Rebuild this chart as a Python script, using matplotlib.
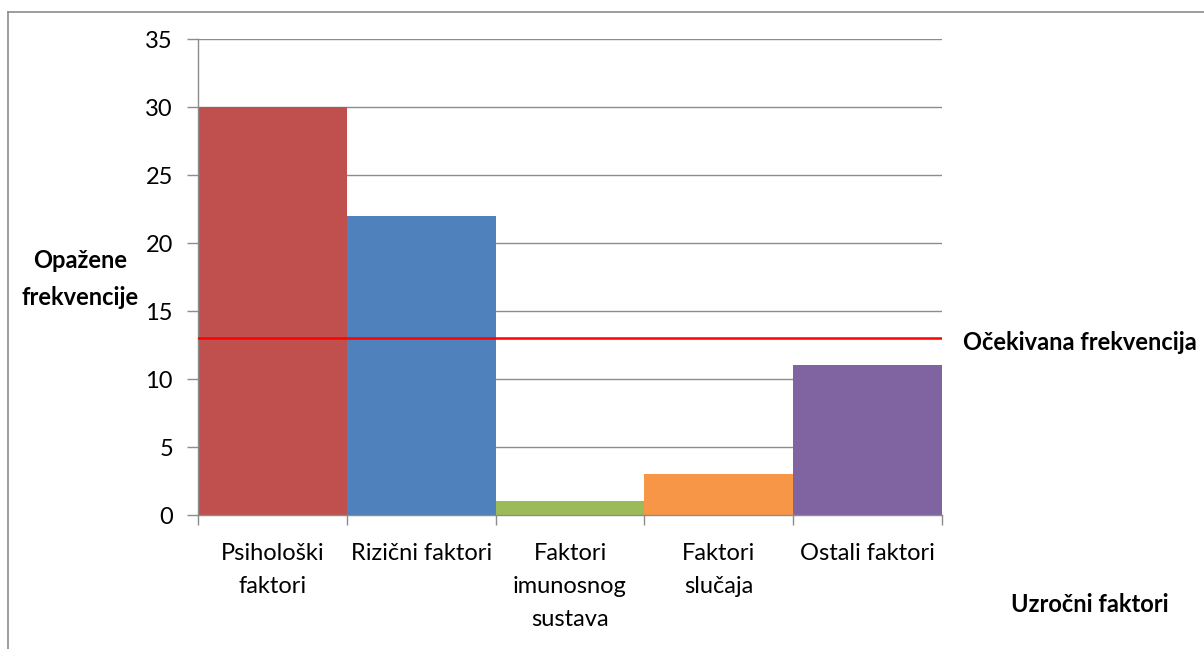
import matplotlib
matplotlib.use("Agg")
import matplotlib.pyplot as plt
from matplotlib.lines import Line2D

categories = ["Psihološki\nfaktori", "Rizični faktori", "Faktori\nimunosnog\nsustava",
              "Faktori\nslučaja", "Ostali faktori"]
observed = [30, 22, 1, 3, 11]
expected = 13
colors = ["#C0504D", "#4F81BD", "#9BBB59", "#F79646", "#8064A2"]
y_ticks = [0, 5, 10, 15, 20, 25, 30, 35]

plt.rcParams['font.family'] = ['Lato', 'DejaVu Sans']
FS = 17
LS = 1.7

W, H = 1204, 649
fig = plt.figure(figsize=(W / 100, H / 100), dpi=100)
fig.patch.set_facecolor("white")

ax = fig.add_axes([198 / W, (H - 515) / H, 744 / W, 476 / H])
x = list(range(len(observed)))
ax.bar(x, observed, width=1.0, color=colors, zorder=2)
ax.axhline(expected, color="#FF0000", lw=1.8, zorder=3)

ax.set_xlim(-0.5, len(observed) - 0.5)
ax.set_ylim(0, 35)
ax.set_yticks(y_ticks)
ax.set_yticklabels([str(v) for v in y_ticks], fontsize=FS)
ax.yaxis.grid(True, color="#8C8C8C", lw=1.0, zorder=0)
ax.set_axisbelow(True)

ax.set_xticks(x)
ax.set_xticklabels(categories, fontsize=FS, linespacing=LS, va="top")
ax.tick_params(axis="x", length=0, pad=20)
ax.set_xticks([i - 0.5 for i in range(len(observed) + 1)], minor=True)
ax.tick_params(axis="x", which="minor", length=7, color="#8C8C8C", width=1.0)
ax.tick_params(axis="y", length=8, color="#8C8C8C", width=1.0, pad=10)

for s in ["top", "right"]:
    ax.spines[s].set_visible(False)
for s in ["left", "bottom"]:
    ax.spines[s].set_color("#8C8C8C")
    ax.spines[s].set_linewidth(1.0)

fig.text(80 / W, 1 - 279 / H, "Opažene\nfrekvencije", ha="center", va="center",
         fontsize=FS, fontweight="bold", linespacing=LS)
fig.text(963 / W, 1 - 343 / H, "Očekivana frekvencija", ha="left", va="center",
         fontsize=FS, fontweight="bold")
fig.text(1090 / W, 1 - 605 / H, "Uzročni faktori", ha="center", va="center",
         fontsize=FS, fontweight="bold")

# chart area border (partially cropped)
fig.add_artist(Line2D([8 / W, 1.0], [1 - 11.5 / H, 1 - 11.5 / H], color="#8C8C8C", lw=1.2,
                      transform=fig.transFigure))
fig.add_artist(Line2D([8 / W, 8 / W], [1 - 11.5 / H, 0.0], color="#8C8C8C", lw=1.2,
                      transform=fig.transFigure))

fig.savefig("out.png", dpi=100)
